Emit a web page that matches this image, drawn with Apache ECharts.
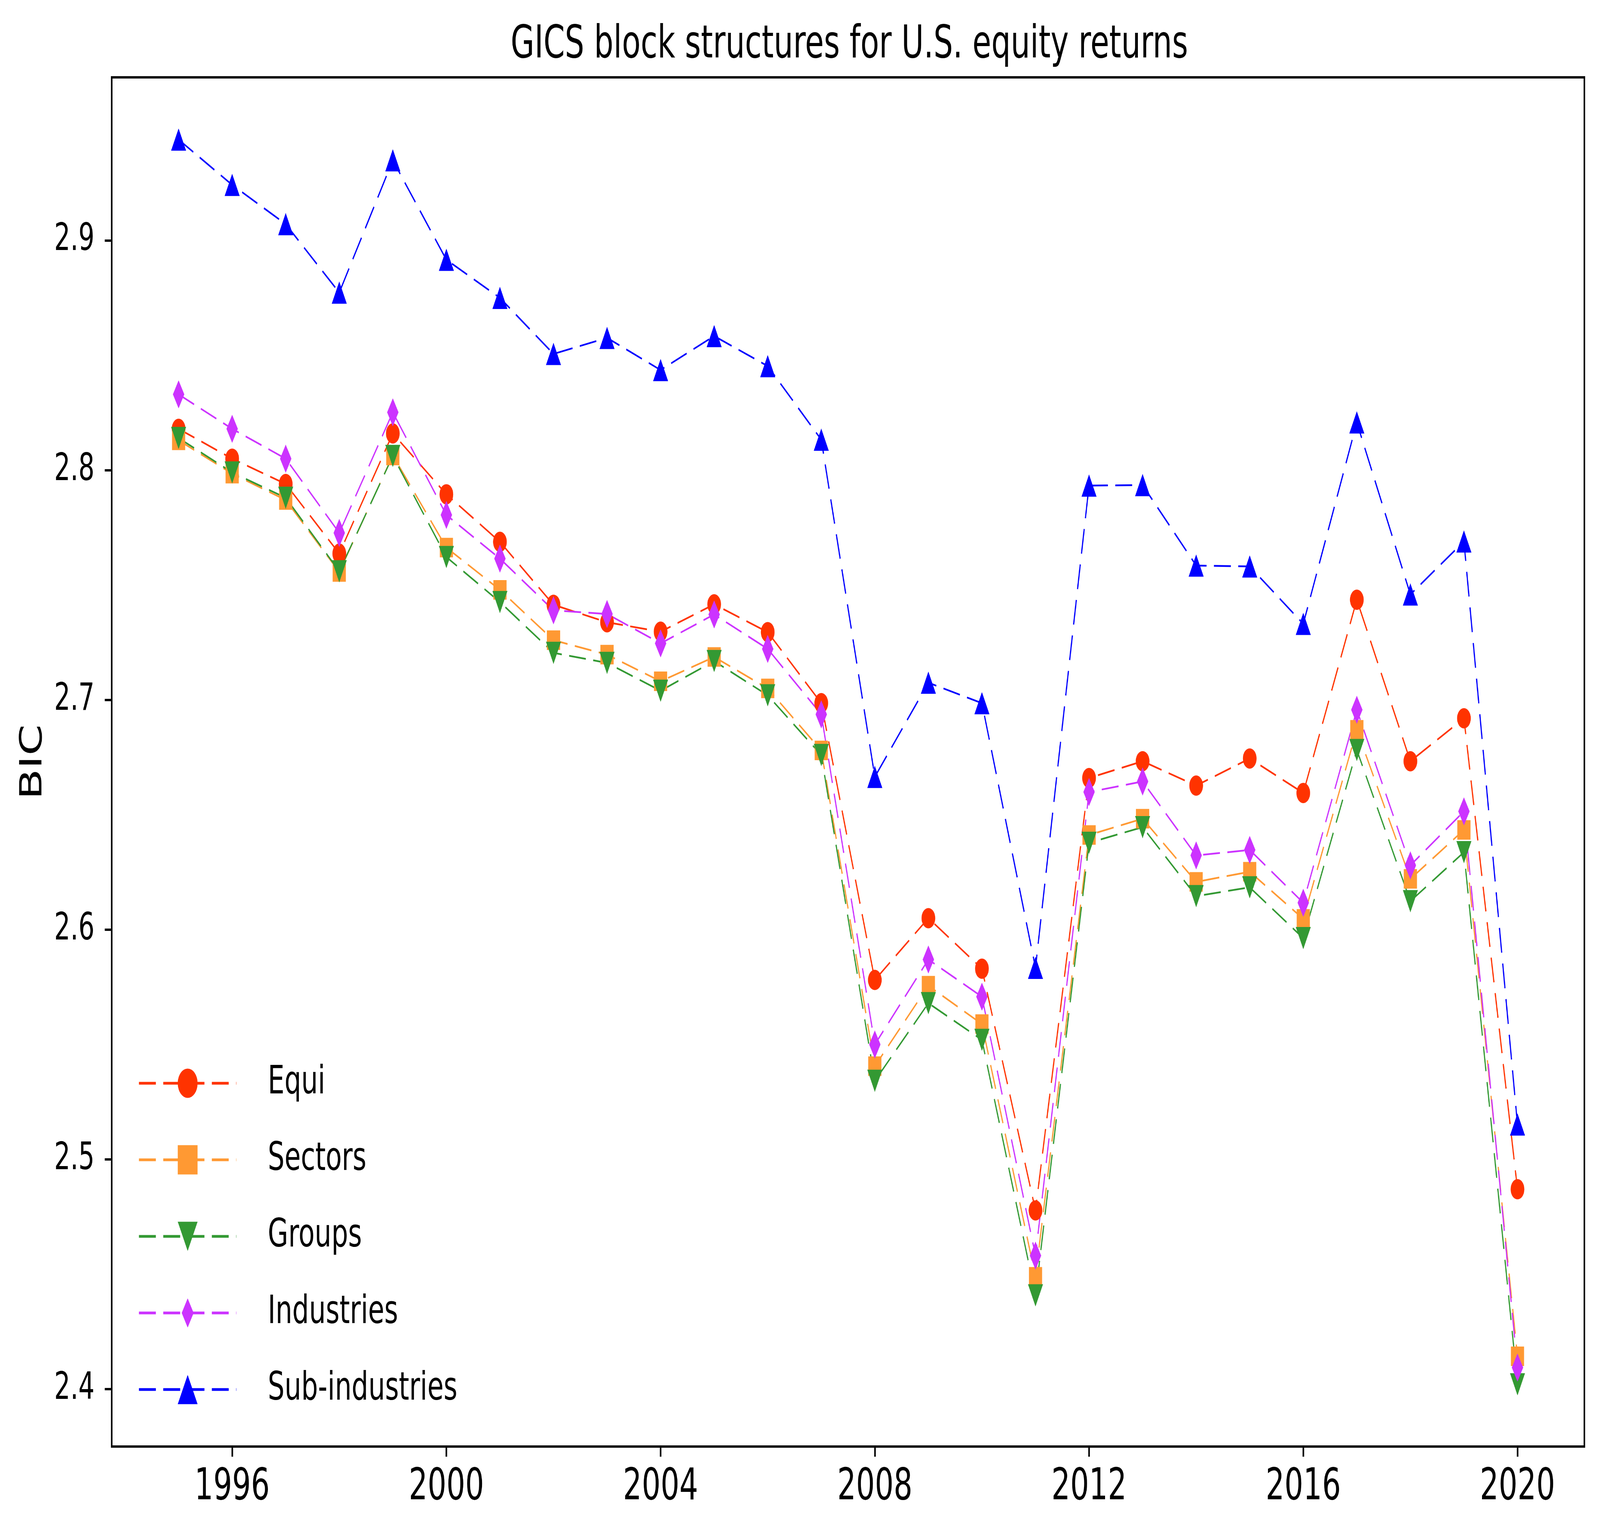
<!DOCTYPE html>
<html>
<head>
<meta charset="utf-8">
<script src="https://cdn.jsdelivr.net/npm/echarts@6/dist/echarts.min.js"></script>
<style>
html,body{margin:0;padding:0;background:#fff;overflow:hidden;}
#wrap{position:absolute;left:0;top:0;transform-origin:0 0;}
#chart{width:6062px;height:3932px;}
</style>
</head>
<body>
<div id="wrap"><div id="chart"></div></div>
<script>
const years = [1995,1996,1997,1998,1999,2000,2001,2002,2003,2004,2005,2006,2007,2008,2009,2010,2011,2012,2013,2014,2015,2016,2017,2018,2019,2020];
const equi = [2.818,2.805,2.794,2.7637,2.816,2.7895,2.7688,2.7414,2.7338,2.7297,2.7416,2.7295,2.6986,2.5781,2.605,2.583,2.4778,2.666,2.6733,2.6627,2.6745,2.6595,2.7436,2.6733,2.692,2.487];
const sectors = [2.813,2.7985,2.787,2.7557,2.8064,2.7663,2.7479,2.726,2.7197,2.7081,2.7187,2.705,2.678,2.5406,2.5756,2.5589,2.4489,2.6412,2.6483,2.6208,2.6252,2.6047,2.687,2.6221,2.6434,2.4143];
const groups = [2.814,2.799,2.788,2.756,2.8062,2.7622,2.7426,2.7205,2.7161,2.704,2.7169,2.702,2.676,2.5342,2.568,2.552,2.4408,2.6378,2.6446,2.6146,2.6184,2.5963,2.6782,2.6124,2.6337,2.4021];
const industries = [2.833,2.818,2.805,2.7727,2.8252,2.7805,2.7615,2.739,2.7374,2.7246,2.7372,2.7222,2.6937,2.55,2.587,2.5708,2.4581,2.6599,2.6645,2.6323,2.6347,2.6117,2.6957,2.628,2.6515,2.4094];
const subIndustries = [2.9439,2.9242,2.9071,2.8773,2.9349,2.8916,2.875,2.8506,2.8576,2.8436,2.8584,2.8453,2.8133,2.6665,2.7075,2.6986,2.5834,2.7933,2.7935,2.7585,2.7581,2.7331,2.8208,2.7459,2.769,2.5152];
const xTicks = [1996,2000,2004,2008,2012,2016,2020];
const yTicks = [2.4,2.5,2.6,2.7,2.8,2.9];

const FONT = 'DejaVu Sans';
const DASH = [64, 28];
const thinDiamond = 'path://M-50,-50M50,50M0,-50L30,0L0,50L-30,0Z';

// The design is laid out on a 6062x3932 canvas; map it onto the real viewport.
const sx = (window.innerWidth || 6062) / 6062;
const sy = (window.innerHeight || 3932) / 3932;
document.getElementById('wrap').style.transform = 'scale(' + sx + ',' + sy + ')';

function pairs(vals){ return years.map((y,i)=>[y, vals[i]]); }

function mk(name, vals, color, symbol, size, rotate){
  return {
    name: name, type: 'line', data: pairs(vals),
    symbol: symbol, symbolSize: size, symbolRotate: rotate || 0,
    showSymbol: true,
    lineStyle: {color: color, width: 4.5, type: DASH},
    itemStyle: {color: color, borderWidth: 0},
    emphasis: {disabled: true}
  };
}

const chart = echarts.init(document.getElementById('chart'), null, {renderer:'canvas', width:6062, height:3932, devicePixelRatio:1});
chart.setOption({
  animation: false,
  backgroundColor: '#ffffff',
  textStyle: {fontFamily: FONT},
  title: {
    text: 'GICS block structures for U.S. equity returns',
    left: 3213, top: 54, textAlign: 'center',
    textStyle: {fontFamily: FONT, fontSize: 116, fontWeight: 'normal', color: '#000'}
  },
  grid: {left: 423, top: 198, right: 59, bottom: 229, show: true, borderColor: '#000', borderWidth: 6, backgroundColor: 'transparent'},
  legend: {
    orient: 'vertical', left: 518, top: 2718,
    itemWidth: 369, itemHeight: 94, itemGap: 96,
    textStyle: {fontFamily: FONT, fontSize: 100, color: '#000', padding: [0,0,0,114]},
    lineStyle: {width: 7},
    data: ['Equi','Sectors','Groups','Industries','Sub-industries']
  },
  xAxis: {
    type: 'value', min: 1993.75, max: 2021.25,
    axisLine: {show: true, onZero: false, lineStyle: {color:'#000', width: 6}},
    axisTick: {show: true, length: 26, lineStyle: {color:'#000', width: 6}, customValues: xTicks},
    axisLabel: {fontFamily: FONT, fontSize: 112, color: '#000', margin: 50, customValues: xTicks, formatter: v => String(v)},
    splitLine: {show: false}
  },
  yAxis: {
    type: 'value', min: 2.375, max: 2.971,
    name: 'BIC', nameLocation: 'middle', nameRotate: 90, nameGap: 238,
    nameTextStyle: {fontFamily: FONT, fontSize: 115, color: '#000'},
    axisLine: {show: true, onZero: false, lineStyle: {color:'#000', width: 6}},
    axisTick: {show: true, length: 26, lineStyle: {color:'#000', width: 6}, customValues: yTicks},
    axisLabel: {fontFamily: FONT, fontSize: 96, color: '#000', margin: 65, customValues: yTicks, formatter: v => v.toFixed(1)},
    splitLine: {show: false}
  },
  series: [
    mk('Equi', equi, '#FF3300', 'circle', 52),
    mk('Sectors', sectors, '#FF9933', 'rect', 50),
    mk('Groups', groups, '#339933', 'triangle', 57, 180),
    mk('Industries', industries, '#CC33FF', thinDiamond, 72),
    mk('Sub-industries', subIndustries, '#0000FF', 'triangle', 57)
  ]
});
</script>
</body>
</html>
